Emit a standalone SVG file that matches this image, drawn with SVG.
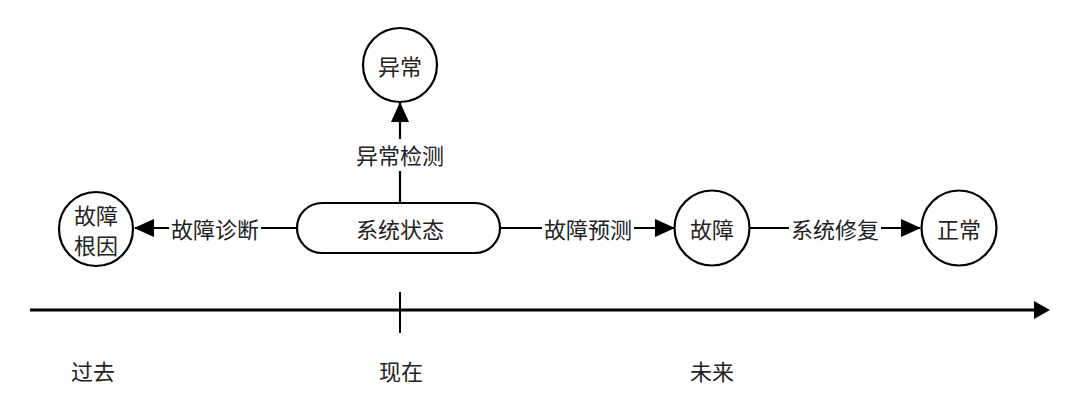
<svg xmlns="http://www.w3.org/2000/svg" width="1080" height="411" viewBox="0 0 1080 411">
<defs>
<style>
.n{fill:#fff;stroke:#000;stroke-width:2.2}
.t{font-family:"Noto Sans CJK SC","Noto Sans",sans-serif;font-size:22px;fill:#222;text-anchor:middle;dominant-baseline:central}
.c{stroke:#000;stroke-width:2.2;fill:none}
.lb{fill:#fff}
</style>
</defs>
<rect width="1080" height="411" fill="#fff"/>
<g id="connectors">
<line class="c" x1="400" y1="203" x2="400" y2="103"/>
<polygon points="400,102 391,122 409,122" fill="#000"/>
<rect class="lb" x="350" y="139" width="100" height="32"/>
<text class="t" x="400" y="154">异常检测</text>

<line class="c" x1="297" y1="228" x2="135" y2="228"/>
<polygon points="134,228 154,219 154,237" fill="#000"/>
<rect class="lb" x="169" y="213" width="92" height="30"/>
<text class="t" x="215" y="228">故障诊断</text>

<line class="c" x1="500" y1="228" x2="674" y2="228"/>
<polygon points="675,228 655,219 655,237" fill="#000"/>
<rect class="lb" x="542" y="213" width="92" height="30"/>
<text class="t" x="588" y="228">故障预测</text>

<line class="c" x1="750" y1="228" x2="920" y2="228"/>
<polygon points="921,228 901,219 901,237" fill="#000"/>
<rect class="lb" x="789" y="213" width="92" height="30"/>
<text class="t" x="835" y="228">系统修复</text>

<line x1="30" y1="310" x2="1035" y2="310" stroke="#000" stroke-width="3"/>
<polygon points="1050,310 1034,301 1034,319" fill="#000"/>
<line x1="400" y1="292" x2="400" y2="333" stroke="#000" stroke-width="2"/>
</g>
<g id="node-root">
<circle class="n" cx="96" cy="229" r="37"/>
<text class="t" x="96" y="214">故障</text>
<text class="t" x="96" y="244">根因</text>
</g>
<g id="node-state">
<rect class="n" x="297" y="203" width="203" height="50" rx="25"/>
<text class="t" x="400" y="228">系统状态</text>
</g>
<g id="node-anomaly">
<circle class="n" cx="400" cy="65" r="37"/>
<text class="t" x="400" y="65">异常</text>
</g>
<g id="node-fault">
<circle class="n" cx="712" cy="228" r="37.5"/>
<text class="t" x="712" y="228">故障</text>
</g>
<g id="node-normal">
<circle class="n" cx="959" cy="228" r="37.5"/>
<text class="t" x="959" y="228">正常</text>
</g>
<g id="time-labels">
<text class="t" x="93" y="370">过去</text>
<text class="t" x="401" y="370">现在</text>
<text class="t" x="712" y="370">未来</text>
</g>
</svg>
